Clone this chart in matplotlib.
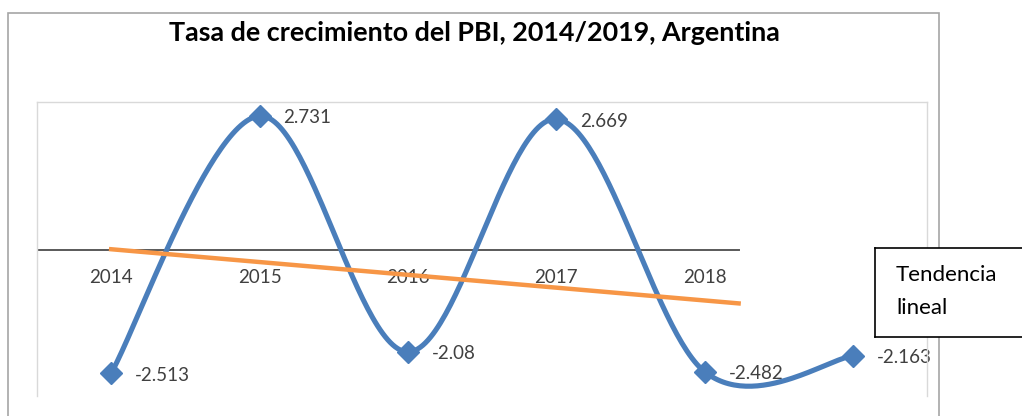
import matplotlib.pyplot as plt
import numpy as np
from matplotlib.patches import Rectangle
from matplotlib.lines import Line2D

years = ['2014', '2015', '2016', '2017', '2018', '2019']
growth = [-2.513, 2.731, -2.08, 2.669, -2.482, -2.163]
labels = ['-2.513', '2.731', '-2.08', '2.669', '-2.482', '-2.163']
axis_years = ['2014', '2015', '2016', '2017', '2018']

plt.rcParams['font.family'] = ['Lato', 'DejaVu Sans']

W, H = 1022, 416


def smooth(x, y, n=60):
    # excel style smoothed line: bezier segments with catmull-rom handles
    x = np.asarray(x, float)
    y = np.asarray(y, float)
    px = np.concatenate([[x[0]], x, [x[-1]]])
    py = np.concatenate([[y[0]], y, [y[-1]]])
    xs, ys = [], []
    t = np.linspace(0, 1, n)
    for i in range(1, len(x)):
        p0 = np.array([px[i], py[i]])
        p3 = np.array([px[i + 1], py[i + 1]])
        c1 = p0 + (p3 - np.array([px[i - 1], py[i - 1]])) / 6
        c2 = p3 - (np.array([px[i + 2], py[i + 2]]) - p0) / 6
        b = ((1 - t) ** 3)[:, None] * p0 + (3 * (1 - t) ** 2 * t)[:, None] * c1 \
            + (3 * (1 - t) * t ** 2)[:, None] * c2 + (t ** 3)[:, None] * p3
        xs.append(b[:, 0])
        ys.append(b[:, 1])
    return np.concatenate(xs), np.concatenate(ys)


fig = plt.figure(figsize=(W / 100, H / 100), dpi=100)
ax = fig.add_axes([37 / W, 1 - 396 / H, (927 - 37) / W, (396 - 102) / H])
ax.set_facecolor('none')

x = np.arange(len(years))
ax.set_xlim(-0.5, 5.5)
ax.set_ylim(-2.98, 3.016)

# category axis line (stops short, as in the source)
x_end = 4.23
ax.plot([-0.5, x_end], [0, 0], color='#595959', lw=1.4, zorder=2)

for i, yr in enumerate(axis_years):
    ax.annotate(yr, (i, 0), xytext=(0, -28), textcoords='offset pixels',
                ha='center', va='center', fontsize=13.5, color='#404040', zorder=1)

sx, sy = smooth(x, growth)
ax.plot(sx, sy, color='#4a7ebb', lw=3.7, zorder=3, solid_capstyle='round')
ax.plot(x, growth, linestyle='none', marker='D', ms=11, color='#4a7ebb', zorder=4)

# linear trend
k, b = np.polyfit(x, growth, 1)
tx = np.array([0, x_end])
ax.plot(tx, k * tx + b, color='#f79646', lw=3.2, zorder=5)

for i, (v, s) in enumerate(zip(growth, labels)):
    ax.annotate(s, (i, v), xytext=(24, -2), textcoords='offset pixels',
                ha='left', va='center', fontsize=13.5, color='#404040', zorder=1)

for side in ['left', 'top', 'right']:
    ax.spines[side].set_color('#d9d9d9')
    ax.spines[side].set_linewidth(1.0)
ax.spines['bottom'].set_visible(False)
ax.set_xticks([])
ax.set_yticks([])

fig.text(474 / W, 1 - 33 / H, 'Tasa de crecimiento del PBI, 2014/2019, Argentina',
         ha='center', va='center', fontsize=19.4, fontweight='bold', color='#000000')

# outer chart border
fig.add_artist(Rectangle((8 / W, -0.1), (939 - 8) / W, 1 - 13 / H + 0.1,
                         transform=fig.transFigure, fill=False,
                         edgecolor='#a6a6a6', lw=1.2, zorder=0))

# legend box pasted on the right, cut off by the picture edge
bx0, by0, by1 = 875 / W, 1 - 337 / H, 1 - 248 / H
fig.add_artist(Rectangle((bx0, by0), 1.2 - bx0, by1 - by0,
                         transform=fig.transFigure, facecolor='white',
                         edgecolor='none', zorder=10))
for xs_, ys_ in [([bx0, 1.2], [by1, by1]), ([bx0, 1.2], [by0, by0]), ([bx0, bx0], [by0, by1])]:
    fig.add_artist(Line2D(xs_, ys_, transform=fig.transFigure, color='black',
                          lw=1.2, zorder=10.5))
fig.text(896 / W, 1 - 275 / H, 'Tendencia', ha='left', va='center',
         fontsize=16, color='#000000', zorder=11)
fig.text(896 / W, 1 - 308 / H, 'lineal', ha='left', va='center',
         fontsize=16, color='#000000', zorder=11)

fig.savefig('out.png', dpi=100)
